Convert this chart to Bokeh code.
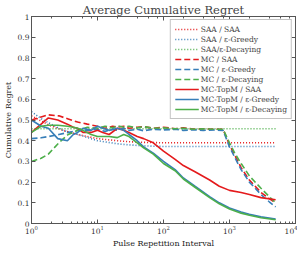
from bokeh.plotting import figure
from bokeh.models import LinearAxis, LogAxis, FixedTicker, Range1d
from bokeh.embed import file_html
from bokeh.resources import INLINE

# ---- data ----
x_dot = [1, 1.5, 2, 3, 5, 10, 20, 30, 50, 100, 300, 1000, 3000, 5000]
saa_saa = [0.52, 0.49, 0.47, 0.45, 0.43, 0.41, 0.40, 0.395, 0.392, 0.39, 0.39, 0.39, 0.39, 0.39]
saa_greedy = [0.54, 0.50, 0.48, 0.45, 0.43, 0.40, 0.385, 0.38, 0.375, 0.372, 0.372, 0.372, 0.372, 0.372]
saa_decay = [0.458, 0.458, 0.458, 0.458, 0.458, 0.458, 0.458, 0.458, 0.458, 0.458, 0.458, 0.458, 0.458, 0.458]

x_mc = [1, 1.4, 1.8, 2.6, 3.6, 5, 7, 10, 13, 17, 20, 25, 30, 40, 50, 70, 100, 150, 200, 300, 400, 600, 800,
        1000, 1200, 1500, 2000, 3000, 4000, 5000]
mc_saa = [0.50, 0.515, 0.525, 0.52, 0.505, 0.49, 0.48, 0.47, 0.46, 0.47, 0.465, 0.47, 0.46, 0.465, 0.468, 0.46, 0.465,
          0.458, 0.462, 0.455, 0.458, 0.455, 0.455, 0.38, 0.33, 0.27, 0.21, 0.15, 0.12, 0.10]
mc_greedy = [0.41, 0.414, 0.42, 0.43, 0.44, 0.45, 0.45, 0.455, 0.445, 0.455, 0.45, 0.46, 0.45, 0.455, 0.448, 0.455,
             0.452, 0.455, 0.45, 0.453, 0.45, 0.452, 0.45, 0.37, 0.32, 0.26, 0.20, 0.14, 0.105, 0.08]
mc_decay = [0.30, 0.315, 0.335, 0.39, 0.43, 0.45, 0.465, 0.46, 0.47, 0.462, 0.472, 0.465, 0.47, 0.462, 0.468, 0.46,
            0.462, 0.458, 0.46, 0.455, 0.457, 0.455, 0.455, 0.39, 0.34, 0.29, 0.23, 0.17, 0.13, 0.10]

x_top = [1, 1.4, 1.8, 2.5, 3.5, 4.3, 5, 6, 8, 10, 12, 15, 20, 25, 30, 40, 50, 70, 100, 150, 200, 300, 500, 700,
         1000, 1500, 2000, 3000, 5000]
top_saa = [0.44, 0.48, 0.51, 0.50, 0.48, 0.465, 0.46, 0.44, 0.44, 0.45, 0.44, 0.43, 0.46, 0.45, 0.44, 0.42, 0.41,
           0.39, 0.35, 0.31, 0.28, 0.25, 0.21, 0.18, 0.16, 0.15, 0.14, 0.125, 0.115]
top_greedy = [0.50, 0.47, 0.46, 0.41, 0.40, 0.43, 0.44, 0.46, 0.45, 0.47, 0.46, 0.45, 0.46, 0.45, 0.43, 0.40, 0.37,
              0.34, 0.30, 0.26, 0.22, 0.18, 0.13, 0.10, 0.075, 0.055, 0.045, 0.032, 0.022]
top_decay = [0.44, 0.47, 0.475, 0.475, 0.47, 0.465, 0.46, 0.45, 0.43, 0.42, 0.42, 0.42, 0.415, 0.43, 0.42, 0.39,
             0.365, 0.335, 0.29, 0.255, 0.215, 0.175, 0.125, 0.095, 0.07, 0.05, 0.04, 0.028, 0.018]

y_ticks = [0, 0.1, 0.2, 0.3, 0.4, 0.5, 0.6, 0.7, 0.8, 0.9, 1]
y_tick_labels = ["0", "0.1", "0.2", "0.3", "0.4", "0.5", "0.6", "0.7", "0.8", "0.9", "1"]

RED = "#e41a1c"
BLUE = "#377eb8"
GREEN = "#4daf4a"
FONT = "DejaVu Serif"

p = figure(width=297, height=250, x_axis_type="log", output_backend="svg", toolbar_location=None,
           x_range=Range1d(1, 1e4), y_range=Range1d(0, 1),
           title="Average Cumulative Regret",
           min_border_left=27, min_border_right=2, min_border_top=8, min_border_bottom=26)

p.title.text_font = FONT
p.title.text_font_size = "11.5px"
p.title.text_font_style = "normal"
p.title.align = "center"
p.title.standoff = 0

p.xgrid.visible = False
p.ygrid.visible = False
p.outline_line_color = "#555555"
p.background_fill_color = "white"

LW = 1.6
DOT = "1 2"
DASH = "6 3"
p.line(x_dot, saa_saa, color=RED, line_width=LW, line_dash=DOT, legend_label="SAA / SAA")
p.line(x_dot, saa_greedy, color=BLUE, line_width=LW, line_dash=DOT, legend_label="SAA / ε-Greedy")
p.line(x_dot, saa_decay, color=GREEN, line_width=LW, line_dash=DOT, legend_label="SAA/ε-Decaying")
p.line(x_mc, mc_saa, color=RED, line_width=LW, line_dash=DASH, legend_label="MC / SAA")
p.line(x_mc, mc_greedy, color=BLUE, line_width=LW, line_dash=DASH, legend_label="MC / ε-Greedy")
p.line(x_mc, mc_decay, color=GREEN, line_width=LW, line_dash=DASH, legend_label="MC / ε-Decaying")
p.line(x_top, top_saa, color=RED, line_width=LW, legend_label="MC-TopM / SAA")
p.line(x_top, top_greedy, color=BLUE, line_width=LW, legend_label="MC-TopM / ε-Greedy")
p.line(x_top, top_decay, color=GREEN, line_width=LW, legend_label="MC-TopM / ε-Decaying")

leg = p.legend[0]
leg.location = "top_right"
leg.label_text_font = FONT
leg.label_text_font_size = "7.5px"
leg.label_height = 10
leg.glyph_height = 10
leg.glyph_width = 24
leg.spacing = 0
leg.padding = 4
leg.margin = 3
leg.label_standoff = 2
leg.border_line_color = "#888888"
leg.background_fill_alpha = 1

def style_axis(ax):
    ax.axis_line_color = "#555555"
    ax.major_tick_line_color = "#555555"
    ax.minor_tick_line_color = "#555555"
    ax.major_tick_in = 4
    ax.major_tick_out = 0
    ax.minor_tick_in = 2
    ax.minor_tick_out = 0
    ax.major_label_text_font = FONT
    ax.major_label_text_font_size = "7.5px"
    ax.major_label_text_color = "#333333"
    ax.axis_label_text_font = FONT
    ax.axis_label_text_font_size = "8px"
    ax.axis_label_text_font_style = "normal"
    ax.axis_label_text_color = "#222222"
    ax.major_label_standoff = 2
    ax.axis_label_standoff = 2

xa = p.xaxis[0]
style_axis(xa)
xa.axis_label = "Pulse Repetition Interval"

ya = p.yaxis[0]
style_axis(ya)
ya.axis_label = "Cumulative Regret"
ya.ticker = FixedTicker(ticks=y_ticks)
ya.major_label_overrides = {t: s for t, s in zip(y_ticks, y_tick_labels)}
ya.minor_tick_line_color = None

ra = LinearAxis(ticker=FixedTicker(ticks=y_ticks))
style_axis(ra)
ra.major_label_text_font_size = "1px"
ra.major_label_text_alpha = 0
ra.minor_tick_line_color = None
ra.major_label_standoff = 0
p.add_layout(ra, "right")

ta = LogAxis()
style_axis(ta)
ta.major_label_text_font_size = "1px"
ta.major_label_text_alpha = 0
ta.major_label_standoff = 0
p.add_layout(ta, "above")

open("out.html", "w").write(file_html(p, INLINE))
